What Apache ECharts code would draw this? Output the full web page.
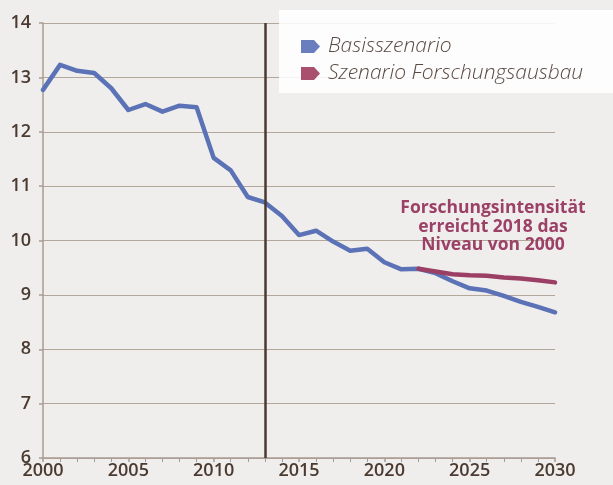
<!DOCTYPE html>
<html>
<head>
<meta charset="utf-8">
<script src="https://cdn.jsdelivr.net/npm/echarts@6/dist/echarts.min.js"></script>
<style>
html,body{margin:0;padding:0;background:#f0eeec;}
#chart{width:613px;height:485px;}
</style>
</head>
<body>
<div id="chart"></div>
<script>
var years = [2000,2001,2002,2003,2004,2005,2006,2007,2008,2009,2010,2011,2012,2013,2014,2015,
    2016,2017,2018,2019,2020,2021,2022,2023,2024,2025,2026,2027,2028,2029,2030];
var basis = [12.77,13.23,13.12,13.08,12.80,12.40,12.51,12.37,12.48,12.45,11.52,11.29,10.80,10.70,10.45,10.10,
    10.18,9.98,9.81,9.85,9.60,9.47,9.48,9.40,9.25,9.12,9.08,8.98,8.87,8.78,8.68];
var ausbauYears = [2022,2023,2024,2025,2026,2027,2028,2029,2030];
var ausbau = [9.48,9.43,9.38,9.36,9.35,9.32,9.30,9.27,9.23];
var markYear = 2013;

function pairs(xs, ys){
    return xs.map(function(x,i){ return [x, ys[i]]; });
}

var tagIcon = 'path://M0,0 L13,0 L19,6.5 L13,13 L0,13 Z';
var labelFont = 'Open Sans';

var chart = echarts.init(document.getElementById('chart'));
var option = {
    backgroundColor: '#f0eeec',
    animation: false,
    grid: {left: 43, right: 58, top: 23, bottom: 27},
    xAxis: {
        type: 'value', min: 2000, max: 2030, interval: 5,
        axisLine: {lineStyle: {color: '#a89c92', width: 1.5}},
        axisTick: {show: true, length: 4, lineStyle: {color: '#a89c92', width: 1.5}},
        minorTick: {show: true, splitNumber: 5, length: 4, lineStyle: {color: '#a89c92', width: 1}},
        splitLine: {show: false},
        axisLabel: {color: '#4a3a30', fontSize: 18, fontWeight: 600, fontFamily: labelFont, margin: 4,
            formatter: function(v){ return String(v); }}
    },
    yAxis: {
        type: 'value', min: 6, max: 14, interval: 1,
        axisLine: {show: true, lineStyle: {color: '#a89c92', width: 1.5}},
        axisTick: {show: true, length: 4, lineStyle: {color: '#a89c92', width: 1.5}},
        splitLine: {lineStyle: {color: '#b3a79c', width: 1.2}},
        axisLabel: {color: '#4a3a30', fontSize: 18, fontWeight: 600, fontFamily: labelFont, margin: 12}
    },
    legend: {
        left: 296, top: 31, orient: 'vertical', itemGap: 6,
        itemWidth: 19, itemHeight: 13, z: 6,
        textStyle: {color: '#5a4a42', fontSize: 21, fontStyle: 'italic', fontWeight: 300, fontFamily: labelFont, padding: [0, 0, 0, 3]},
        data: [
            {name: 'Basisszenario', icon: tagIcon, itemStyle: {color: '#6a7dbf'}},
            {name: 'Szenario Forschungsausbau', icon: tagIcon, itemStyle: {color: '#a9506e'}}
        ]
    },
    graphic: [
        {type: 'rect', z: 3, shape: {x: 279, y: 10, width: 334, height: 83},
         style: {fill: 'rgba(255,255,255,0.88)'}},
        {type: 'text', z: 5, x: 493, y: 199,
         style: {text: 'Forschungsintensität\nerreicht 2018 das\nNiveau von 2000',
                 fill: '#9b4066', font: 'bold 17.5px "Open Sans"', align: 'center', lineHeight: 18.5}}
    ],
    series: [
        {
            name: 'Basisszenario', type: 'line', data: pairs(years, basis),
            symbol: 'none', lineStyle: {color: '#5b73b6', width: 4.5, cap: 'round', join: 'round'},
            itemStyle: {color: '#6a7dbf'}, z: 2,
            markLine: {
                silent: true, symbol: 'none', label: {show: false},
                lineStyle: {color: '#4a3a32', width: 2.5, type: 'solid'},
                data: [{xAxis: markYear}]
            }
        },
        {
            name: 'Szenario Forschungsausbau', type: 'line', data: pairs(ausbauYears, ausbau),
            symbol: 'none', lineStyle: {color: '#9b3f65', width: 4.5, cap: 'round', join: 'round'},
            itemStyle: {color: '#a9506e'}, z: 3
        }
    ]
};
chart.setOption(option);
</script>
</body>
</html>
